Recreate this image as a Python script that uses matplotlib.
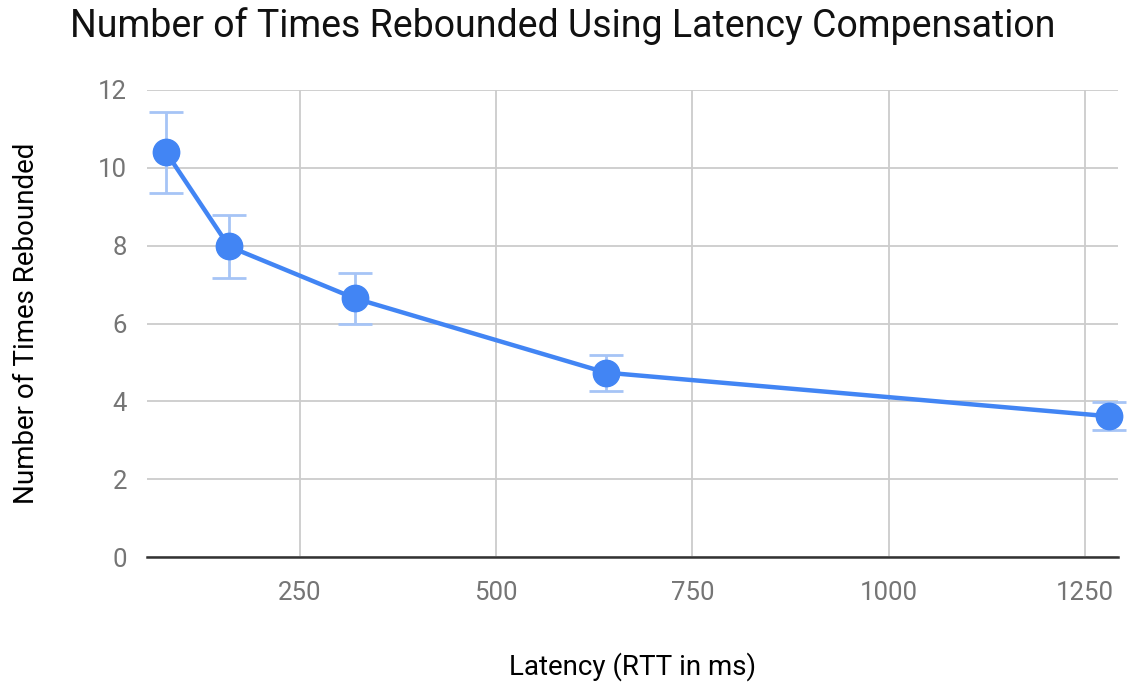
import numpy as np
import matplotlib.pyplot as plt

# data
latency = [80, 160, 320, 640, 1280]
rebounds = [10.4, 7.98, 6.65, 4.74, 3.62]
err = [1.04, 0.8, 0.66, 0.46, 0.36]
x_ticks = [250, 500, 750, 1000, 1250]
y_ticks = [0, 2, 4, 6, 8, 10, 12]

plt.rcParams['font.family'] = ['Roboto', 'DejaVu Sans']

fig = plt.figure(figsize=(11.27, 6.87), dpi=100)
ax = fig.add_axes([0.130, 0.189, 0.862, 0.680])

# error bars behind the line
ax.errorbar(latency, rebounds, yerr=err, fmt='none', ecolor='#a6c4f6',
            elinewidth=2, capsize=12, capthick=2, zorder=2, clip_on=False)
ax.plot(latency, rebounds, color='#4285f4', lw=3.2, marker='o',
        markersize=19, zorder=3, clip_on=False)

ax.set_xlim(55, 1292)
ax.set_ylim(0, 12)
ax.set_xticks(x_ticks)
ax.set_yticks(y_ticks)
ax.grid(True, color='#cccccc', lw=1.3)
ax.set_axisbelow(True)
for s in ['top', 'right', 'left']:
    ax.spines[s].set_visible(False)
ax.spines['bottom'].set_color('#333333')
ax.spines['bottom'].set_linewidth(1.8)
ax.tick_params(length=0, labelsize=18.5, labelcolor='#757575', pad=17)
ax.tick_params(axis='y', pad=14)

fig.text(0.062, 0.99, 'Number of Times Rebounded Using Latency Compensation',
         fontsize=27, va='top', ha='left', color='#111111')
ax.set_xlabel('Latency (RTT in ms)', fontsize=20, labelpad=34)
ax.set_ylabel('Number of Times Rebounded', fontsize=20, labelpad=42)

fig.savefig('out.png', dpi=100)
